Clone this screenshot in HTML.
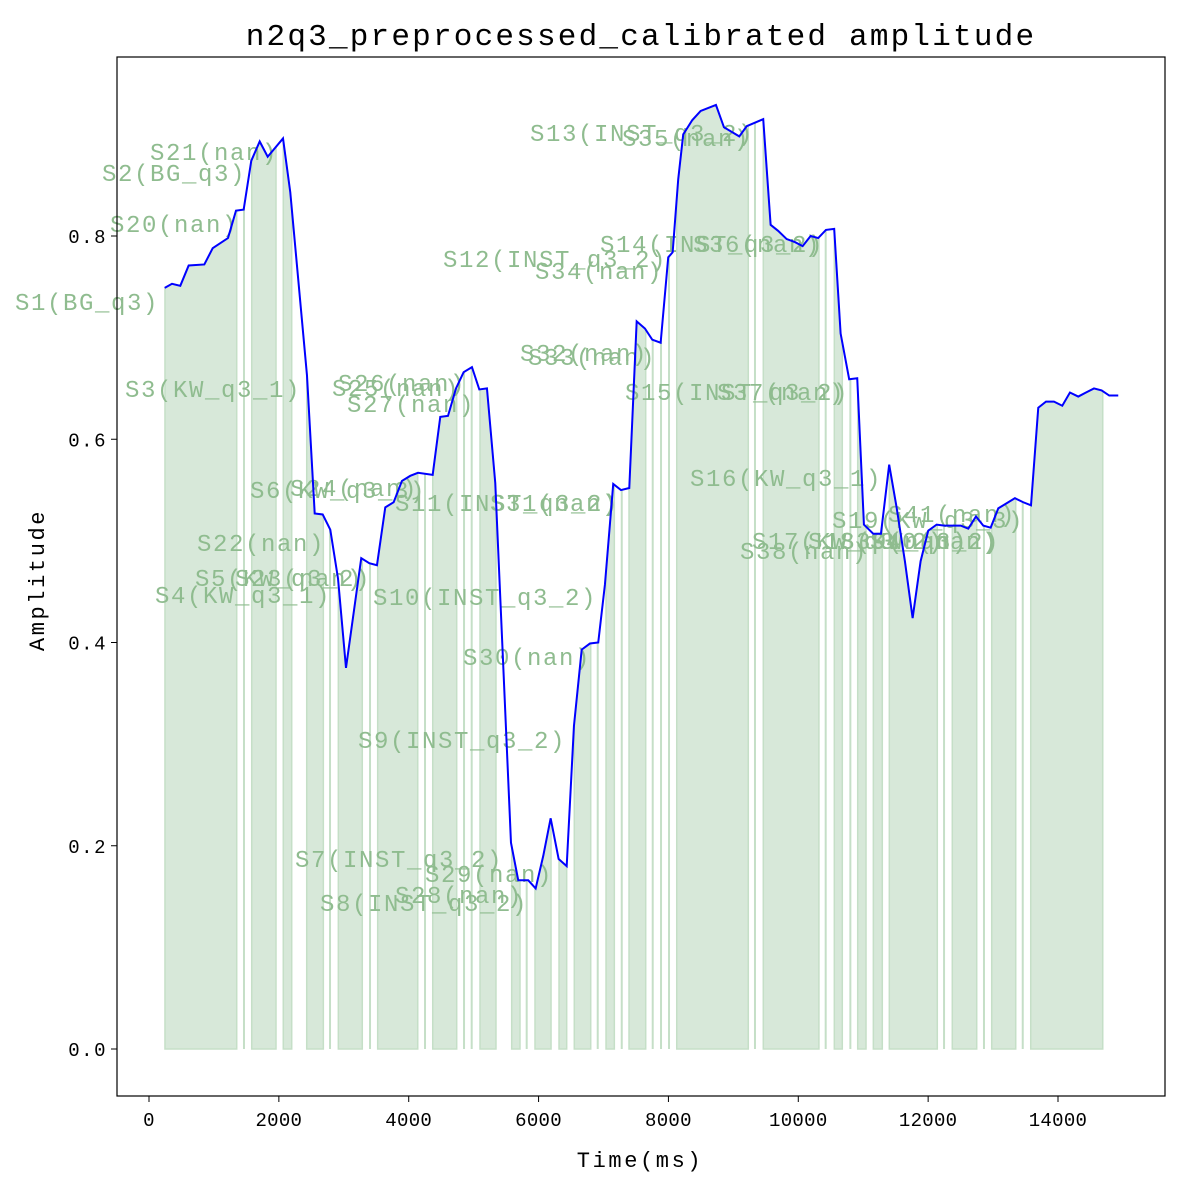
<!DOCTYPE html>
<html><head><meta charset="utf-8">
<style>
html,body{margin:0;padding:0;background:#fff;}
svg text{font-family:"Liberation Mono","Noto Sans CJK SC",monospace;}
</style></head>
<body>
<svg id="chart" width="1180" height="1187" viewBox="0 0 1180 1187" xmlns="http://www.w3.org/2000/svg">
<rect x="0" y="0" width="1180" height="1187" fill="#fff"/>
<text x="641" y="45" text-anchor="middle" font-size="31" letter-spacing="2.2" fill="#000">n2q3_preprocessed_calibrated amplitude</text>
<g id="fills"></g>
<g id="labels"></g>
<path id="line" fill="none" stroke="#0000ff" stroke-width="2"/>
<rect x="117" y="57" width="1048" height="1039" fill="none" stroke="#000" stroke-width="1.2"/>
<g id="axes"></g>
<text x="640" y="1167" text-anchor="middle" font-size="22" letter-spacing="2.6" fill="#000">Time(ms)</text>
<text transform="translate(44,580) rotate(-90)" text-anchor="middle" font-size="22" letter-spacing="2.6" fill="#000">Amplitude</text>
</svg>
<script>
const times=[242,354,482,611,852,981,1217,1340,1458,1575,1705,1828,2064,2176,2433,2552,2675,2792,2911,3034,3269,3393,3511,3639,3768,3896,4024,4143,4369,4486,4605,4728,4846,4974,5087,5205,5333,5575,5687,5841,5955,6072,6186,6309,6433,6545,6664,6791,6919,7022,7150,7269,7397,7511,7638,7751,7880,7997,8065,8151,8228,8367,8496,8732,8855,9091,9205,9460,9574,9691,9821,9948,10067,10190,10307,10426,10553,10652,10784,10908,11011,11154,11273,11400,11514,11642,11761,11884,12001,12131,12248,12371,12501,12618,12737,12849,12963,13080,13209,13337,13465,13584,13696,13815,13938,14066,14184,14312,14431,14554,14672,14789,14928];
const amps=[0.749,0.753,0.751,0.771,0.772,0.788,0.798,0.825,0.826,0.874,0.893,0.878,0.896,0.843,0.663,0.527,0.526,0.511,0.463,0.375,0.483,0.478,0.476,0.533,0.538,0.559,0.564,0.567,0.565,0.622,0.623,0.650,0.666,0.671,0.649,0.650,0.557,0.203,0.166,0.166,0.158,0.190,0.227,0.187,0.180,0.318,0.393,0.399,0.400,0.457,0.556,0.550,0.552,0.716,0.709,0.698,0.695,0.779,0.784,0.856,0.900,0.914,0.923,0.929,0.907,0.898,0.908,0.915,0.811,0.805,0.797,0.794,0.790,0.800,0.798,0.806,0.807,0.704,0.659,0.660,0.516,0.507,0.507,0.575,0.533,0.480,0.424,0.480,0.510,0.516,0.515,0.515,0.515,0.512,0.524,0.515,0.513,0.532,0.537,0.542,0.538,0.535,0.631,0.637,0.637,0.633,0.646,0.642,0.646,0.650,0.648,0.643,0.643];
const segStarts=[246,1463,1582,2068,2429,2788,2916,3404,3522,4251,4370,4852,4970,5098,5586,5817,5945,6315,6550,6911,7039,7281,7393,7758,7886,8009,8128,9333,9461,10422,10555,10802,10915,11156,11402,12245,12372,12860,12979,13457,13580];
const segEnds=[1351,1463,1956,2198,2685,2788,3285,3404,4139,4251,4739,4852,4970,5344,5714,5817,6192,6433,6803,6911,7167,7281,7650,7758,7886,8009,9230,9333,10318,10422,10678,10802,11043,11294,12141,12245,12748,12860,13349,13457,14689];
const xTicks=[0,2000,4000,6000,8000,10000,12000,14000];
const yTicks=[0.0,0.2,0.4,0.6,0.8];
const yTickLabels=["0.0","0.2","0.4","0.6","0.8"];
const labelTexts=["S21(nan)","S2(BG_q3)","S20(nan)","S1(BG_q3)","S3(KW_q3_1)","S22(nan)","S5(KW_q3_2)","S23(nan)","S4(KW_q3_1)","S6(KW_q3_3)","S24(nan)","S11(INST_q3_2)","S31(nan)","S26(nan)","S25(nan)","S27(nan)","S10(INST_q3_2)","S12(INST_q3_2)","S34(nan)","S13(INST_q3_2)","S35(nan)","S32(nan)","S33(nan)","S14(INST_q3_2)","S36(nan)","S15(INST_q3_2)","S37(nan)","S16(KW_q3_1)","S30(nan)","S9(INST_q3_2)","S7(INST_q3_2)","S29(nan)","S28(nan)","S8(INST_q3_2)","S19(KW_q3_3)","S41(nan)","S17(KW_q3_2)","S18(KW_q3_2)","S39(nan)","S40(nan)","S38(nan)"];
const labelX=[150,102,110,15,125,197,195,235,155,250,290,395,490,338,332,347,373,443,535,530,622,520,528,600,693,625,717,690,463,358,295,425,395,320,832,888,752,808,840,870,740];
const labelY=[152,173,224,302,389,543,578,578,595,490,488,503,503,383,388,404,597,259,271,133,138,353,357,244,244,392,392,478,657,740,859,874,895,903,520,514,541,541,541,541,551];

const X0=117,X1=1165,Y0=57,Y1=1096;
const xs=t=>149+t*(1058-149)/14000;
const ys=a=>1049-a*(1049-236)/0.8;
function interp(t){
  if(t<=times[0])return amps[0];
  for(let i=1;i<times.length;i++){
    if(t<=times[i]){const f=(t-times[i-1])/(times[i]-times[i-1]);return amps[i-1]+f*(amps[i]-amps[i-1]);}
  }
  return amps[amps.length-1];
}
const NS="http://www.w3.org/2000/svg";
const fills=document.getElementById('fills');
for(let k=0;k<segStarts.length;k++){
  const a=segStarts[k],b=segEnds[k];
  const el=document.createElementNS(NS,'path');
  
  
  if(b-a<1){
    el.setAttribute('d',`M${xs(a)},${ys(0)}L${xs(a)},${ys(interp(a))}`);
    el.setAttribute('stroke','#c5dfc7');el.setAttribute('stroke-width','2');el.setAttribute('fill','none');
  }else{
    let d=`M${xs(a)},${ys(0)}L${xs(a)},${ys(interp(a))}`;
    for(let i=0;i<times.length;i++){if(times[i]>a&&times[i]<b)d+=`L${xs(times[i])},${ys(amps[i])}`;}
    d+=`L${xs(b)},${ys(interp(b))}L${xs(b)},${ys(0)}Z`;
    el.setAttribute('d',d);
    el.setAttribute('fill','#d7e8d9');el.setAttribute('stroke','#c5dfc7');el.setAttribute('stroke-width','1.5');
  }
  fills.appendChild(el);
}
let d='';
for(let i=0;i<times.length;i++)d+=(i?'L':'M')+xs(times[i])+','+ys(amps[i]);
document.getElementById('line').setAttribute('d',d);
const lab=document.getElementById('labels');
for(let i=0;i<labelTexts.length;i++){
  const t=document.createElementNS(NS,'text');
  
  
  t.setAttribute('x',labelX[i]);t.setAttribute('y',labelY[i]+8);
  t.setAttribute('font-size','24');t.setAttribute('letter-spacing','1.6');
  t.setAttribute('fill','#8fbc8f');
  t.textContent=labelTexts[i];
  lab.appendChild(t);
}
const ax=document.getElementById('axes');
for(let i=0;i<xTicks.length;i++){
  const x=xs(xTicks[i]);
  const l=document.createElementNS(NS,'line');
  
  
  l.setAttribute('x1',x);l.setAttribute('x2',x);l.setAttribute('y1',Y1);l.setAttribute('y2',Y1+6);l.setAttribute('stroke','#000');
  ax.appendChild(l);
  const t=document.createElementNS(NS,'text');
  
  
  t.setAttribute('x',x);t.setAttribute('y',Y1+30);t.setAttribute('text-anchor','middle');
  t.setAttribute('font-size','19');t.setAttribute('letter-spacing','0.3');t.setAttribute('fill','#000');
  t.textContent=String(xTicks[i]);
  ax.appendChild(t);
}
for(let i=0;i<yTicks.length;i++){
  const y=ys(yTicks[i]);
  const l=document.createElementNS(NS,'line');
  
  
  l.setAttribute('x1',X0-6);l.setAttribute('x2',X0);l.setAttribute('y1',y);l.setAttribute('y2',y);l.setAttribute('stroke','#000');
  ax.appendChild(l);
  const t=document.createElementNS(NS,'text');
  
  
  t.setAttribute('x',X0-10);t.setAttribute('y',y+7);t.setAttribute('text-anchor','end');
  t.setAttribute('font-size','19');t.setAttribute('letter-spacing','1.5');t.setAttribute('fill','#000');
  t.textContent=yTickLabels[i];
  ax.appendChild(t);
}
</script>
</body></html>
